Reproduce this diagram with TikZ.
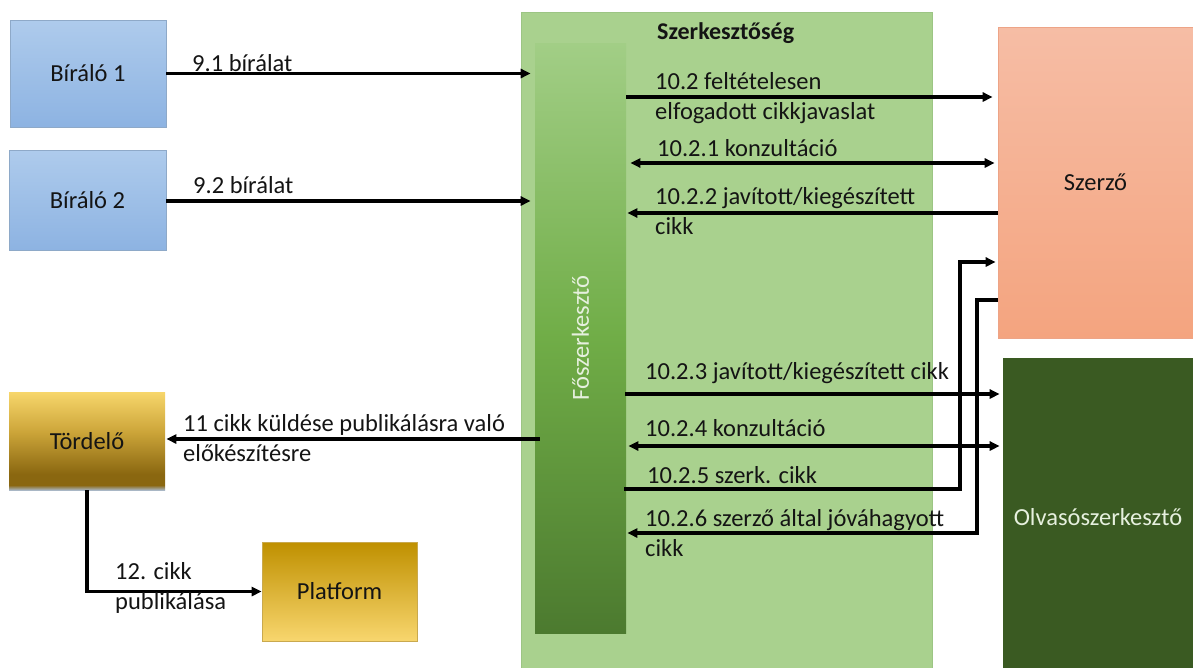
\documentclass[tikz,border=0pt]{standalone}
\usepackage{fontspec}
\setmainfont{Carlito}
\usetikzlibrary{arrows.meta}
\definecolor{txt}{HTML}{141414}
\definecolor{bluetop}{HTML}{AECBEC}
\definecolor{bluebot}{HTML}{8DB3E2}
\definecolor{blueline}{HTML}{8EA9C8}
\definecolor{szkfill}{HTML}{A9D18E}
\definecolor{szkline}{HTML}{9CC584}
\definecolor{bartop}{HTML}{A2CE86}
\definecolor{barmid}{HTML}{70AD47}
\definecolor{barbot}{HTML}{4C7A2F}
\definecolor{saltop}{HTML}{F6BDA5}
\definecolor{salbot}{HTML}{F4A47F}
\definecolor{salline}{HTML}{EDA487}
\definecolor{olv}{HTML}{3A5A22}
\definecolor{olvtxt}{HTML}{E6F0DE}
\definecolor{tordtop}{HTML}{F7D66B}
\definecolor{tordmid}{HTML}{CDA63A}
\definecolor{tordbrown}{HTML}{8A6710}
\definecolor{tordedge}{HTML}{A9B7C6}
\definecolor{plattop}{HTML}{BF9000}
\definecolor{platbot}{HTML}{F8D66E}
\definecolor{platline}{HTML}{C9A94E}
\pgfdeclareverticalshading{tordshade}{100bp}{color(0bp)=(tordedge); color(25bp)=(tordedge); color(27.5bp)=(tordbrown); color(33bp)=(tordbrown); color(55bp)=(tordmid); color(75bp)=(tordtop); color(100bp)=(tordtop)}
\tikzset{
  boxbase/.style={rectangle, inner sep=0pt, line width=0.6pt, text=txt, align=center},
  bluebox/.style={boxbase, draw=blueline, top color=bluetop, bottom color=bluebot},
  arr/.style={line width=3.2pt, -{Triangle[length=10pt,width=9pt]}},
  darr/.style={line width=3.2pt, {Triangle[length=10pt,width=9pt]}-{Triangle[length=10pt,width=9pt]}},
  lbl/.style={anchor=west, inner sep=0pt, align=left, text=txt},
}
\begin{document}
\begin{tikzpicture}[x=1pt,y=-1pt,font=\fontsize{24.5}{30}\selectfont]
\useasboundingbox (0,0) rectangle (1193,667);
% containers
\node[boxbase, draw=szkline, fill=szkfill, minimum width=411pt, minimum height=680pt, anchor=north west] (szk) at (521,12) {};
\node[boxbase, minimum width=91pt, minimum height=590pt, top color=bartop, bottom color=barbot, middle color=barmid] (bar) at (580.5,338) {};
\node[rotate=90, text=olvtxt] (barl) at (bar.center) {Főszerkesztő};
\node[lbl, font=\fontsize{24}{30}\selectfont\bfseries] (szkl) at (657,33) {Szerkesztőség};
% boxes
\node[bluebox, minimum width=156pt, minimum height=107pt] (b1) at (88,73.5) {Bíráló 1};
\node[bluebox, minimum width=157pt, minimum height=100pt] (b2) at (87.5,200) {Bíráló 2};
\node[boxbase, minimum width=156pt, minimum height=98pt, shading=tordshade] (tord) at (87,441) {Tördelő};
\node[boxbase, draw=platline, minimum width=155pt, minimum height=99pt, top color=plattop, bottom color=platbot] (plat) at (339.5,591.5) {Platform};
\node[boxbase, draw=salline, minimum width=195pt, minimum height=311pt, top color=saltop, bottom color=salbot] (szerzo) at (1095.5,182.5) {Szerző};
\node[boxbase, fill=olv, text=olvtxt, minimum width=190pt, minimum height=318pt] (olv) at (1098,517) {Olvasószerkesztő};
% arrows left
\draw[arr, shorten >=4pt] (b1.east) -- (b1.east -| bar.west);
\draw[arr, shorten >=4pt] (b2.east |- 0,201) -- (bar.west |- 0,201);
\draw[arr, shorten >=1pt] ([xshift=5pt]bar.west |- 0,439) -- (tord.east |- 0,439);
\draw[arr] (tord.south) -- (tord.south |- plat.west) -- (plat.west);
% arrows right
\draw[arr, shorten >=5pt] (bar.east |- 0,97) -- (szerzo.west |- 0,97);
\draw[darr, shorten <=4pt, shorten >=3pt] (bar.east |- 0,163) -- (szerzo.west |- 0,163);
\draw[arr, shorten >=1pt] (szerzo.west |- 0,213) -- (bar.east |- 0,213);
\draw[arr, shorten >=3pt] ([xshift=-1pt]bar.east |- 0,394) -- (olv.west |- 0,394);
\draw[darr, shorten <=2pt, shorten >=3pt] (bar.east |- 0,446) -- (olv.west |- 0,446);
\coordinate (k5) at (960,0);
\coordinate (k6) at (977,0);
\draw[arr, shorten >=2pt] ([xshift=-2pt]bar.east |- 0,489) -- (k5 |- 0,489) -- (k5 |- 0,262) -- (szerzo.west |- 0,262);
\draw[arr, shorten >=1pt] (szerzo.west |- 0,300) -- (k6 |- 0,300) -- (k6 |- 0,533) -- (bar.east |- 0,533);
% labels
\node[lbl] (l91) at (192,63) {9.1 bírálat};
\node[lbl] (l92) at (193,185) {9.2 bírálat};
\node[lbl] (l102) at (655,98) {10.2 feltételesen\\elfogadott cikkjavaslat};
\node[lbl] (l1021) at (657,148) {10.2.1 konzultáció};
\node[lbl] (l1022) at (655,211) {10.2.2 javított/kiegészített\\cikk};
\node[lbl] (l1023) at (645,373) {10.2.3 javított/kiegészített cikk};
\node[lbl] (l1024) at (645,428) {10.2.4 konzultáció};
\node[lbl] (l1025) at (647,475) {10.2.5 szerk. cikk};
\node[lbl] (l1026) at (645,533) {10.2.6 szerző által jóváhagyott\\cikk};
\node[lbl] (l11) at (183,438) {11 cikk küldése publikálásra való\\előkészítésre};
\node[lbl] (l12) at (115,588) {12. cikk\\publikálása};
\end{tikzpicture}
\end{document}
